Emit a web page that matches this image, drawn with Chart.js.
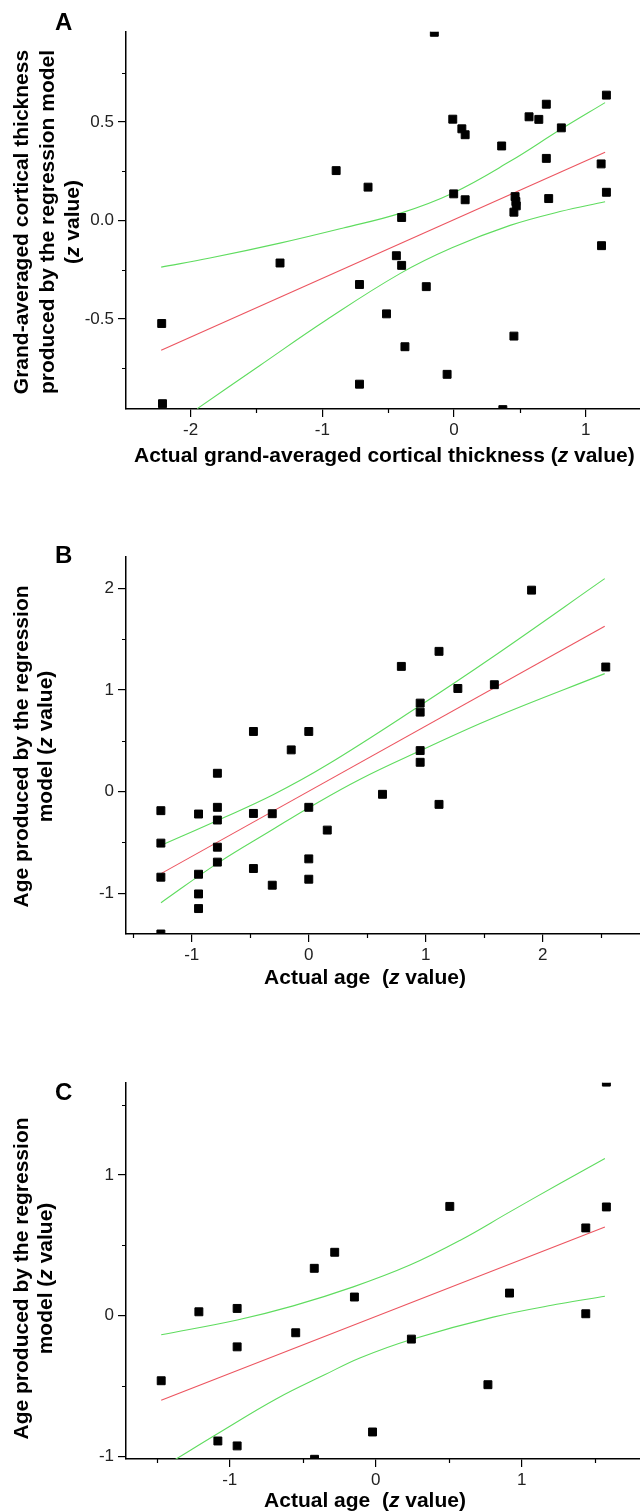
<!DOCTYPE html>
<html>
<head>
<meta charset="utf-8">
<script src="https://cdn.jsdelivr.net/npm/chart.js@4.4.1/dist/chart.umd.min.js"></script>
<style>
  html, body { margin: 0; background: #fff; overflow: hidden; }
  canvas.panel { position: absolute; left: 0; }
</style>
</head>
<body>
<!-- canvases are a few px wider than the page: Chart.js keeps a min padding for the squares,
     the extra width pushes the plot's right edge to the window edge like in the figure -->
<canvas id="chartA" class="panel" width="647" height="500" style="top:0px"></canvas>
<canvas id="chartB" class="panel" width="647" height="520" style="top:500px"></canvas>
<canvas id="chartC" class="panel" width="647" height="492" style="top:1020px"></canvas>
<script>
// ---- Panel A: grand-averaged cortical thickness ----
const aActual = [-0.15, 1.156, 0.70, -0.01, 0.569, 0.643, 0.059, 0.084, 0.814, 0.361, 0.70, 1.116,
  -0.895, -0.653, -0.003, 0.084, 0.463, 0.469, 0.472, 0.454, 0.718, 1.156, -0.398, 1.119, -1.321,
  -0.438, -0.398, -0.718, -0.211, -0.513, -2.219, 0.454, -0.373, -0.053, -0.718, -2.213, 0.37];
const aPredicted = [0.955, 0.636, 0.59, 0.514, 0.526, 0.513, 0.465, 0.435, 0.470, 0.378, 0.315, 0.287,
  0.253, 0.169, 0.135, 0.105, 0.121, 0.096, 0.074, 0.042, 0.111, 0.143, 0.015, -0.128, -0.216,
  -0.179, -0.228, -0.325, -0.336, -0.474, -0.523, -0.587, -0.641, -0.781, -0.831, -0.93, -0.96];
const aFitX = [-2.223, 1.146];
const aFitY = [-0.659, 0.346];
const aUpperX = [-2.223, -1.853, -1.322, -0.841, -0.411, -0.016, 0.425, 0.804, 1.146];
const aUpperY = [-0.237, -0.191, -0.115, -0.038, 0.036, 0.137, 0.300, 0.460, 0.598];
const aLowerX = [-1.949, -1.474, -0.967, -0.411, -0.016, 0.425, 0.804, 1.146];
const aLowerY = [-0.955, -0.736, -0.504, -0.270, -0.139, -0.025, 0.045, 0.095];
const aXTicks = [-2, -1, 0, 1];
const aXMinor = [-1.5, -0.5, 0.5];
const aYTicks = [-0.5, 0, 0.5];
const aYMinor = [-0.75, -0.25, 0.25, 0.75];

// ---- Panel B: age ----
const bActual = [1.904, 1.113, 0.791, 2.538, 1.274, 1.586, 0.952, 0.952, -0.473, 0, -0.150, 0.952,
  0.952, -0.781, 0.630, 1.113, -1.264, -0.942, -0.781, -0.781, -0.473, -0.312, 0, 0.158, -1.264,
  -0.781, -0.781, 0, -0.473, -1.264, -0.942, 0, -0.312, -0.942, -0.942, -1.264];
const bPredicted = [1.982, 1.380, 1.232, 1.226, 1.015, 1.052, 0.871, 0.782, 0.592, 0.592, 0.411, 0.404,
  0.289, 0.181, -0.026, -0.125, -0.187, -0.220, -0.154, -0.279, -0.214, -0.217, -0.154, -0.378, -0.506,
  -0.546, -0.693, -0.661, -0.756, -0.841, -0.812, -0.861, -0.920, -1.006, -1.150, -1.40];
const bFitX = [-1.263, 2.529];
const bFitY = [-0.806, 1.627];
const bUpperX = [-1.263, -0.781, -0.305, 0.150, 0.948, 1.575, 2.529];
const bUpperY = [-0.528, -0.283, -0.030, 0.259, 0.845, 1.327, 2.095];
const bLowerX = [-1.263, -0.781, -0.305, -0.003, 0.435, 0.948, 1.575, 2.529];
const bLowerY = [-1.092, -0.705, -0.370, -0.160, 0.120, 0.400, 0.725, 1.161];
const bXTicks = [-1, 0, 1, 2];
const bXMinor = [-1.5, -0.5, 0.5, 1.5, 2.5];
const bYTicks = [-1, 0, 1, 2];
const bYMinor = [-0.5, 0.5, 1.5];

// ---- Panel C: age ----
const cActual = [1.579, 0.507, 1.579, 1.438, -0.281, -0.421, -0.146, 0.916, -1.211, -0.949, 1.438,
  -0.548, -0.949, 0.244, -1.469, 0.768, -0.022, -1.081, -0.949, -0.419];
const cPredicted = [1.66, 0.777, 0.773, 0.624, 0.451, 0.337, 0.133, 0.161, 0.028, 0.052, 0.014,
  -0.121, -0.221, -0.166, -0.462, -0.490, -0.826, -0.890, -0.925, -1.02];
const cFitX = [-1.469, 1.569];
const cFitY = [-0.601, 0.630];
const cUpperX = [-1.469, -0.948, -0.565, -0.154, 0.234, 0.576, 0.918, 1.261, 1.569];
const cUpperY = [-0.135, -0.030, 0.070, 0.205, 0.360, 0.535, 0.738, 0.940, 1.118];
const cLowerX = [-1.375, -1.078, -0.679, -0.350, -0.109, 0.238, 0.804, 1.261, 1.569];
const cLowerY = [-1.023, -0.835, -0.590, -0.420, -0.300, -0.170, -0.010, 0.085, 0.138];
const cXTicks = [-1, 0, 1];
const cXMinor = [-1.5, -0.5, 0.5, 1.5];
const cYTicks = [-1, 0, 1];
const cYMinor = [-0.5, 0.5, 1.5];

const FONT = '"Liberation Sans", Arial, sans-serif';
const RED = '#ec5560';
const GREEN = '#5fdc5f';

function pts(xs, ys) {
  return xs.map((x, i) => ({ x: x, y: ys[i] }));
}

// draw a string made of [text, italic] parts starting at / centred on (0,0)
function drawParts(ctx, parts, size, align) {
  let total = 0;
  const widths = parts.map(p => {
    ctx.font = (p[1] ? 'italic ' : '') + 'bold ' + size + 'px ' + FONT;
    const w = ctx.measureText(p[0]).width;
    total += w;
    return w;
  });
  let x = align === 'left' ? 0 : -total / 2;
  parts.forEach((p, i) => {
    ctx.font = (p[1] ? 'italic ' : '') + 'bold ' + size + 'px ' + FONT;
    ctx.textAlign = 'left';
    ctx.fillText(p[0], x, 0);
    x += widths[i];
  });
}

function makePanel(id, cfg) {
  const canvas = document.getElementById(id);
  const H = canvas.height;

  const decor = {
    id: 'decor' + id,
    afterDraw(chart) {
      const ctx = chart.ctx;
      const area = chart.chartArea;
      const xs = chart.scales.x, ys = chart.scales.y;
      ctx.save();
      // minor ticks
      ctx.strokeStyle = '#000';
      ctx.lineWidth = 1.2;
      ctx.beginPath();
      cfg.xMinor.forEach(v => {
        const px = Math.round(xs.getPixelForValue(v)) + 0.5;
        ctx.moveTo(px, area.bottom);
        ctx.lineTo(px, area.bottom + 4);
      });
      cfg.yMinor.forEach(v => {
        const py = Math.round(ys.getPixelForValue(v)) + 0.5;
        if (py < area.top) return;
        ctx.moveTo(area.left - 4, py);
        ctx.lineTo(area.left, py);
      });
      ctx.stroke();

      ctx.fillStyle = '#000';
      ctx.textBaseline = 'alphabetic';
      // panel letter
      ctx.font = 'bold 24px ' + FONT;
      ctx.textAlign = 'left';
      ctx.fillText(cfg.letter, 55, cfg.letterY);

      // y title (rotated lines)
      ctx.textBaseline = 'middle';
      cfg.yTitle.forEach((line, i) => {
        ctx.save();
        ctx.translate(cfg.yTitleX[i], cfg.yTitleY);
        ctx.rotate(-Math.PI / 2);
        drawParts(ctx, line, 21, 'center');
        ctx.restore();
      });

      // x title
      ctx.textBaseline = 'alphabetic';
      ctx.save();
      ctx.translate(cfg.xTitleX, cfg.xTitleY);
      drawParts(ctx, cfg.xTitle, 21, cfg.xTitleAlign);
      ctx.restore();
      ctx.restore();
    }
  };

  const tickFont = { family: FONT, size: 17 };
  const axisCommon = {
    type: 'linear',
    border: { display: true, color: '#000', width: 1.5 },
    grid: { drawOnChartArea: false, drawTicks: true, tickLength: 8, color: '#000', lineWidth: 1.2 }
  };
  const curve = { showLine: true, pointRadius: 0, borderWidth: 1.1, tension: 0.4, clip: 0 };

  return new Chart(canvas, {
    type: 'scatter',
    data: {
      datasets: [
        {
          data: pts(cfg.actual, cfg.predicted),
          pointStyle: 'rect',
          pointRadius: 5.6,
          pointBorderWidth: 1,
          backgroundColor: '#000',
          borderColor: '#000',
          clip: 0
        },
        Object.assign({ data: pts(cfg.fitX, cfg.fitY), borderColor: RED }, curve, { tension: 0 }),
        Object.assign({ data: pts(cfg.upperX, cfg.upperY), borderColor: GREEN }, curve),
        Object.assign({ data: pts(cfg.lowerX, cfg.lowerY), borderColor: GREEN }, curve)
      ]
    },
    options: {
      responsive: false,
      animation: false,
      devicePixelRatio: 1,
      layout: { padding: { top: cfg.top, left: 0, right: 0, bottom: 0 } },
      plugins: { legend: { display: false }, tooltip: { enabled: false } },
      scales: {
        x: Object.assign({}, axisCommon, {
          min: cfg.xMin, max: cfg.xMax,
          afterFit: s => { s.height = H - cfg.bottom; s.paddingLeft = 0; s.paddingRight = 0; },
          afterBuildTicks: s => { s.ticks = cfg.xTicks.map(v => ({ value: v })); },
          ticks: { font: tickFont, color: '#222', padding: 3, maxRotation: 0, autoSkip: false,
                   callback: v => String(v) }
        }),
        y: Object.assign({}, axisCommon, {
          min: cfg.yMin, max: cfg.yMax,
          afterFit: s => { s.width = 126; s.paddingTop = 0; s.paddingBottom = 0; },
          afterBuildTicks: s => { s.ticks = cfg.yTicks.map(v => ({ value: v })); },
          ticks: { font: tickFont, color: '#222', padding: 4, autoSkip: false,
                   callback: v => cfg.yDecimals ? v.toFixed(cfg.yDecimals) : String(v) }
        })
      }
    },
    plugins: [decor]
  });
}

makePanel('chartA', {
  actual: aActual, predicted: aPredicted,
  fitX: aFitX, fitY: aFitY, upperX: aUpperX, upperY: aUpperY, lowerX: aLowerX, lowerY: aLowerY,
  xTicks: aXTicks, xMinor: aXMinor, yTicks: aYTicks, yMinor: aYMinor, yDecimals: 1,
  xMin: -2.49, xMax: 1.414, yMin: -0.957, yMax: 0.958,
  top: 31.7, bottom: 409,
  letter: 'A', letterY: 30,
  yTitle: [
    [['Grand-averaged cortical thickness', false]],
    [['produced by the regression model', false]],
    [['(', false], ['z', true], [' value)', false]]
  ],
  yTitleX: [22, 48, 73], yTitleY: 222,
  xTitle: [['Actual grand-averaged cortical thickness (', false], ['z', true], [' value)', false]],
  xTitleX: 134, xTitleY: 462, xTitleAlign: 'left'
});

makePanel('chartB', {
  actual: bActual, predicted: bPredicted,
  fitX: bFitX, fitY: bFitY, upperX: bUpperX, upperY: bUpperY, lowerX: bLowerX, lowerY: bLowerY,
  xTicks: bXTicks, xMinor: bXMinor, yTicks: bYTicks, yMinor: bYMinor, yDecimals: 0,
  xMin: -1.562, xMax: 2.834, yMin: -1.40, yMax: 2.311,
  top: 56.7, bottom: 434,
  letter: 'B', letterY: 62.7,
  yTitle: [
    [['Age produced by the regression', false]],
    [['model (', false], ['z', true], [' value)', false]]
  ],
  yTitleX: [22, 46], yTitleY: 246.5,
  xTitle: [['Actual age  (', false], ['z', true], [' value)', false]],
  xTitleX: 365, xTitleY: 483.5, xTitleAlign: 'center'
});

makePanel('chartC', {
  actual: cActual, predicted: cPredicted,
  fitX: cFitX, fitY: cFitY, upperX: cUpperX, upperY: cUpperY, lowerX: cLowerX, lowerY: cLowerY,
  xTicks: cXTicks, xMinor: cXMinor, yTicks: cYTicks, yMinor: cYMinor, yDecimals: 0,
  xMin: -1.71, xMax: 1.812, yMin: -1.018, yMax: 1.656,
  top: 62.7, bottom: 439,
  letter: 'C', letterY: 80,
  yTitle: [
    [['Age produced by the regression', false]],
    [['model (', false], ['z', true], [' value)', false]]
  ],
  yTitleX: [22, 46], yTitleY: 258.5,
  xTitle: [['Actual age  (', false], ['z', true], [' value)', false]],
  xTitleX: 365, xTitleY: 486.7, xTitleAlign: 'center'
});
</script>
</body>
</html>
